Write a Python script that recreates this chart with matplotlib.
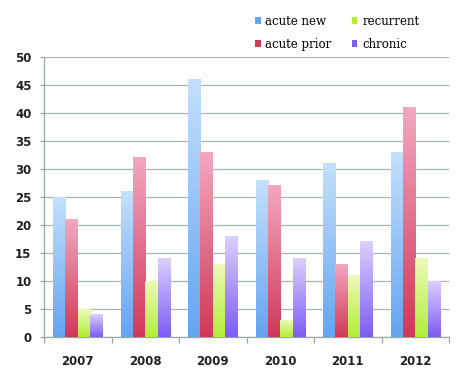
import numpy as np
import matplotlib
matplotlib.use("Agg")
import matplotlib.pyplot as plt
from matplotlib.patches import Patch
from matplotlib.colors import LinearSegmentedColormap

# ── data ─────────────────────────────────────────────────────────────────────
years = ["2007", "2008", "2009", "2010", "2011", "2012"]
series = ["acute new", "acute prior", "recurrent", "chronic"]
acute_new = [25, 26, 46, 28, 31, 33]
acute_prior = [21, 32, 33, 27, 13, 41]
recurrent = [5, 10, 13, 3, 11, 14]
chronic = [4, 14, 18, 14, 17, 10]

# gradient colours (top, bottom) for each series
GRADS = [("#c4e0fc", "#64a4f0"),
         ("#f2a8c0", "#d03858"),
         ("#eefab8", "#b0ee38"),
         ("#dcd0fc", "#7c5cf2")]
GRID = "#a4b8ac"

fig = plt.figure(figsize=(4.76, 3.79), dpi=100)
ax = fig.add_axes([44 / 476, 1 - 337 / 379, (449 - 44) / 476, (337 - 57) / 379])

values = [acute_new, acute_prior, recurrent, chronic]
width = 0.182
x = np.arange(len(years))
grad = np.linspace(1, 0, 256).reshape(-1, 1)

for i, vals in enumerate(values):
    cmap = LinearSegmentedColormap.from_list(series[i], [GRADS[i][1], GRADS[i][0]])
    offs = (i - 1.5) * width
    for xi, v in zip(x, vals):
        x0 = xi + offs - width / 2
        ax.imshow(grad, cmap=cmap, extent=(x0, x0 + width, 0, v),
                  aspect="auto", origin="upper", zorder=3, vmin=0, vmax=1)

ax.set_xlim(-0.5, len(years) - 0.5)
ax.set_ylim(0, 50)
ax.set_yticks(range(0, 51, 5))
ax.set_xticks(x)
ax.set_xticklabels(years)
ax.set_xticks(np.arange(-0.5, len(years), 1), minor=True)

ax.grid(axis="y", color=GRID, linewidth=0.9, zorder=0)
ax.set_axisbelow(True)
for s in ["top", "right"]:
    ax.spines[s].set_visible(False)
for s in ["left", "bottom"]:
    ax.spines[s].set_color("#98a8a0")
    ax.spines[s].set_linewidth(0.9)

ax.tick_params(axis="y", length=3, color="#98a8a0", width=0.9, pad=6,
               labelsize=8.5)
ax.tick_params(axis="x", which="major", length=0, pad=13, labelsize=8.5)
ax.tick_params(axis="x", which="minor", length=4, color="#98a8a0", width=0.9)
for lab in ax.get_xticklabels() + ax.get_yticklabels():
    lab.set_fontweight("bold")
    lab.set_color("#222222")

handles = [Patch(facecolor=GRADS[i][1], edgecolor="none", label=series[i])
           for i in range(4)]
fig.legend(handles=handles, ncol=2, loc="upper left",
           bbox_to_anchor=(244 / 476, 1 - 4 / 379), frameon=False,
           prop={"family": "DejaVu Serif", "size": 8.5},
           handlelength=0.5, handleheight=0.5, handletextpad=0.4,
           columnspacing=1.7, labelspacing=0.85)

fig.savefig("out.png", dpi=100)
